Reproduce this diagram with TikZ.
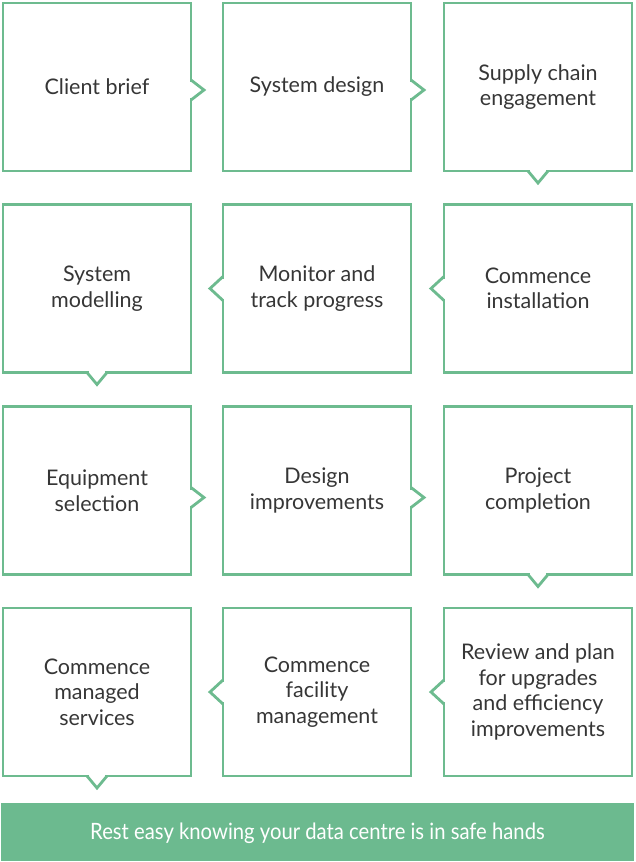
\documentclass[tikz,border=0pt]{standalone}
\usepackage{fontspec}
\setmainfont{Lato}
\newfontfamily\bannerfont[FakeStretch=0.9]{Lato}
\usetikzlibrary{calc}
\definecolor{lineg}{HTML}{6DBB8F}
\definecolor{fillg}{HTML}{6CBA8F}
\definecolor{txt}{HTML}{363636}
\begin{document}
\begin{tikzpicture}[x=1pt,y=-1pt,
  box/.style={draw=lineg, line width=2.5pt, minimum width=188pt, minimum height=168pt,
    align=center, text=txt, font=\fontsize{21.5}{25.5}\selectfont, inner sep=0pt, outer sep=0pt},
  chev/.style={draw=lineg, line width=2.8pt, line join=miter},
  gap/.style={draw=white, line width=4.5pt}]
\useasboundingbox (0,0) rectangle (635,862);
% row 1
\node[box] (b1) at (97,87) {Client brief};
\node[box] (b2) at (317,87) {System design};
\node[box] (b3) at (538,87) {Supply chain\\engagement};
% row 2
\node[box] (b4) at (97,288.5) {System\\modelling};
\node[box] (b5) at (317,288.5) {Monitor and\\track progress};
\node[box] (b6) at (538,288.5) {Commence\\installation};
% row 3
\node[box] (b7) at (97,490.5) {Equipment\\selection};
\node[box] (b8) at (317,490.5) {Design\\improvements};
\node[box] (b9) at (538,490.5) {Project\\completion};
% row 4
\node[box] (b10) at (97,692) {Commence\\managed\\services};
\node[box] (b11) at (317,692) {Commence\\facility\\management};
\node[box] (b12) at (538,692) {Review and plan\\for upgrades\\and efficiency\\improvements};
% banner
\fill[fillg] (1,803) rectangle (634,861);
\node[text=white, font=\bannerfont\fontsize{22.5}{26}\selectfont] (banner) at (317.5,833) {Rest easy knowing your data centre is in safe hands};
% chevrons right
\foreach \n in {b1,b2} {
  \draw[gap] ($(\n.east)+(0,-5)$) -- ++(0,16);
  \draw[chev] ($(\n.east)+(0,-7)$) -- ++(13,10) -- ++(-13,10);
}
\foreach \n in {b7,b8} {
  \draw[gap] ($(\n.east)+(0,-1)$) -- ++(0,16);
  \draw[chev] ($(\n.east)+(0,-3)$) -- ++(13,10) -- ++(-13,10);
}
% chevrons left
\foreach \n in {b5,b6,b11,b12} {
  \draw[gap] ($(\n.west)+(0,-10)$) -- ++(0,20);
  \draw[chev] ($(\n.west)+(0,-12)$) -- ++(-13,12) -- ++(13,12);
}
% chevrons down
\foreach \n in {b3,b4,b9,b10} {
  \draw[gap] ($(\n.south)+(-8,0)$) -- ++(16,0);
  \draw[chev] ($(\n.south)+(-10,0)$) -- ++(10,12) -- ++(10,-12);
}
\end{tikzpicture}
\end{document}
